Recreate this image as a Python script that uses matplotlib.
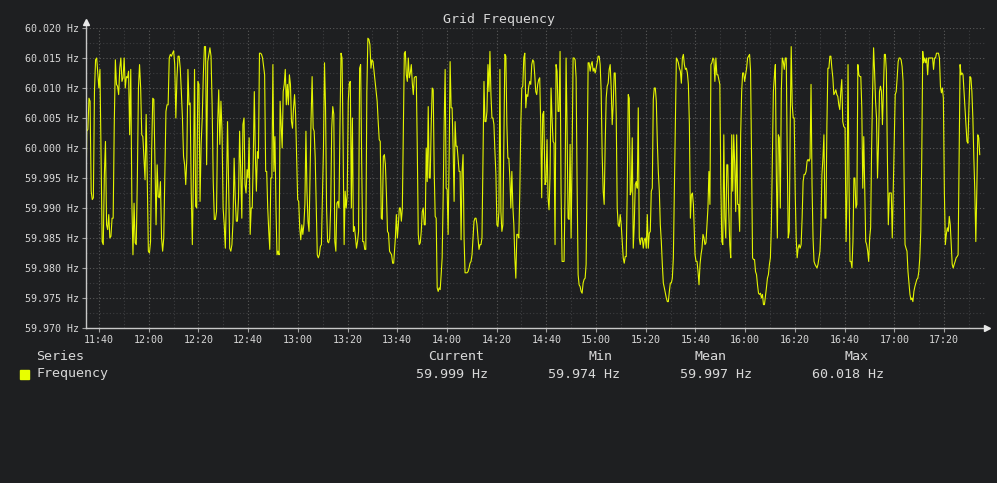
import numpy as np
import pandas as pd
import matplotlib
matplotlib.use("Agg")
import matplotlib.pyplot as plt
import matplotlib.dates as mdates
from matplotlib.ticker import MultipleLocator, FuncFormatter

# Fréquence du réseau : écart par rapport à 60 Hz, en mHz
nominal_hz = 60.0
day = "2024-01-01"

seg1_span = ("11:34:38", "12:38:21")
seg1_mhz = [-12.8, 2.8, 3.1, 8.3, 7.8, -7.2, -8.6, -8.3, 9.4, 14.7, 15.0, 12.5, 10.0, 13.1, -1.7,
            -15.6, -16.1, -4.4, 1.1, -12.8, -13.6, -11.1, -15.0, -14.7, -11.7, -11.7, 3.9, 14.7,
            10.6, 10.3, 8.9, 13.3, 15.0, 11.1, 11.7, 15.0, 10.0, 11.9, 11.7, 12.8, 2.2, 13.1, -8.9,
            -17.8, -9.2, -15.8, -16.1, -5.0, 10.0, 13.9, 10.0, 2.2, 1.9, -1.7, -5.3, 5.6, -5.0,
            -17.2, -17.5, -15.6, -0.6, 8.3, 8.1, -2.8, -12.8, -2.8, -8.1, -8.3, -5.6, -15.0, -17.2,
            -15.0, -4.4, 6.1, 7.2, 7.2, 15.0, 15.6, 15.3, 15.8, 16.2, 13.9, 5.0, 11.7, 15.3, 15.3,
            13.3, 9.4, 5.0, -1.4, -2.8, -6.1, -1.7, 13.1, 7.2, 7.5, -7.2, -16.1, -4.4, 13.1, -9.7,
            -10.0, 11.1, 10.6, -8.9, 0.6, 5.0, 12.2, 16.9, 16.9, -2.8, 14.4, 15.6, 16.7, 15.3, 7.2,
            -5.6, -11.9, -11.9, -10.6, 3.9, 9.7, 0.6, 7.8, 2.8, -10.0, -12.8, -16.7, -7.2, 4.4,
            -6.7, -16.7, -17.2, -16.1, -12.2, -1.7, -8.3, -12.2, -12.2, -8.3, 2.8, -3.9, -11.7,
            3.9, 5.0]

seg2_span = ("12:38:45", "13:38:34")
seg2_mhz = [-6.1, -7.5, -3.6, -5.0, 1.7, -14.4, -10.0, -10.0, -1.7, 9.4, -1.1, -7.2, -0.6, -1.7,
            15.8, 15.8, 15.6, 15.0, 13.6, 12.2, -3.9, -3.9, -10.0, -13.9, -16.9, -5.0, -5.0, 13.9,
            -3.9, 1.9, -10.0, -17.8, -17.2, -17.8, 7.8, 3.9, 0.0, 9.4, 10.6, 13.1, 7.2, 10.6, 7.2,
            12.2, 10.6, 4.4, 3.3, 6.7, 8.9, 5.6, -1.7, -8.6, -8.9, -13.3, -15.3, -12.8, -14.4,
            -12.8, -9.4, 2.8, -7.2, -12.2, -13.9, -4.4, 5.0, 11.9, 3.3, 2.8, -1.7, -9.4, -17.8,
            -18.3, -17.8, -16.4, -16.1, -7.8, 0.0, 14.2, 6.7, -10.0, -15.6, -15.8, -15.0, -9.7,
            3.3, 6.9, 5.6, -15.6, -17.2, -9.2, -8.9, -10.0, 3.9, 15.8, 15.0, 1.1, -16.1, -7.2,
            -10.0, -7.8, 7.8, 10.8, 11.1, -10.0, 5.0, -13.9, -13.1, -15.0, -16.7, -15.6, -13.9,
            13.3, 13.9, -2.2, -15.6, -15.6, -16.9, -16.9, 9.4, 18.3, 18.1, 17.2, 13.3, 14.7, 14.4,
            12.8, 11.1, 9.4, 7.8, 4.4, 1.4, 1.1, -11.7, -11.9, -1.4, -1.1, -2.8, -7.8, -13.9,
            -14.2, -17.2, -17.5, -17.8, -19.2, -19.2]

seg3_span = ("13:39:15", "14:38:56")
seg3_mhz = [-15.0, -11.1, -15.0, -12.8, -10.0, -10.0, -12.2, -10.0, 3.3, 15.8, 16.1, 12.2, 11.1,
            15.0, 11.7, 12.5, 13.9, 10.8, 8.9, 11.7, 11.9, 11.9, 0.0, -14.4, -16.1, -15.8, -13.9,
            -10.6, -10.0, -12.8, -12.8, 0.0, -5.6, 6.9, -5.0, -5.0, 3.9, 10.0, 9.7, -3.9, -11.4,
            -11.7, -23.3, -23.9, -23.3, -23.6, -21.1, -18.3, -8.3, 3.9, 13.1, -6.7, -6.9, -14.4,
            -1.7, 14.4, 6.7, 6.7, 0.0, -8.9, 4.4, 0.3, 0.3, -1.7, -3.9, -3.9, -15.3, -3.9, -1.1,
            -15.0, -20.8, -20.8, -20.8, -20.6, -20.0, -19.2, -18.9, -17.8, -15.0, -12.2, -11.7,
            -11.7, -12.8, -15.0, -16.9, -16.1, -16.1, -15.0, -1.7, 11.1, 4.4, 4.4, 6.1, 13.9, 9.4,
            16.1, 8.9, 5.0, 5.0, 3.9, -0.6, -4.4, -12.8, -13.1, -10.6, 13.1, -10.6, -13.9, -12.8,
            1.1, 15.6, 15.3, 3.9, -1.7, -1.7, -5.0, -10.0, -3.9, -9.7, -12.8, -18.3, -21.7, -14.4,
            -14.4, -15.0, -7.2, 3.9, 10.0, 10.3, 15.0, 15.8, 6.7, 8.9, 8.6, 10.3, 11.1, 10.6, 13.9,
            14.7, 14.4, 12.2, 9.4, 8.9, 10.6, 11.4, 11.7, 3.9, -8.3, 5.6, 6.1]

seg4_span = ("14:39:28", "15:39:10")
seg4_mhz = [-6.1, -5.6, 1.4, -8.3, -10.3, -4.4, 10.0, 5.0, 1.1, 0.8, -16.1, 13.9, 12.8, 6.1, 6.1,
            16.1, -7.2, -18.9, -18.9, -18.9, -7.2, 15.0, 2.8, -11.7, -11.9, 0.6, -15.0, -1.7, 15.0,
            15.0, 14.7, 11.7, -6.1, -21.1, -22.8, -23.1, -23.9, -24.2, -22.5, -21.9, -21.7, -19.4,
            -3.3, 14.2, 14.2, 12.8, 13.9, 14.4, 12.8, 13.3, 12.5, 13.3, 14.2, 15.3, 15.3, 13.9,
            9.4, -1.1, -7.2, -9.4, 0.6, 8.3, 10.3, 10.8, 13.1, 13.9, 10.0, 3.9, 7.2, 12.5, 12.5,
            5.6, -10.0, -12.8, -13.1, -11.1, -12.8, -15.6, -18.3, -19.2, -18.1, -18.1, -7.2, 8.9,
            8.3, -7.8, -7.2, 1.7, -16.7, -12.8, -6.1, -5.6, -6.7, 6.7, -15.0, -16.1, -15.0, -15.0,
            -16.7, -15.3, -15.0, -16.7, -11.1, -16.7, -14.2, -13.9, -7.2, -6.7, 8.1, 10.0, 10.0,
            7.8, 1.1, -3.9, -7.2, -12.8, -15.6, -19.4, -22.5, -23.3, -24.2, -25.0, -25.6, -25.6,
            -23.9, -22.5, -22.5, -21.7, -18.3, -7.2, 3.9, 15.0, 14.7, 14.2, 13.3, 12.8, 10.8, 15.0,
            15.6, 13.9, 13.1, 13.3, 12.5, 10.6, 3.9, -11.7, -7.8, -7.5, -9.4]

seg5_span = ("15:39:50", "16:39:40")
seg5_mhz = [-17.8, -18.9, -18.9, -20.6, -22.8, -19.4, -17.8, -16.7, -14.4, -15.0, -16.1, -15.8,
            -12.8, -10.0, -3.9, -9.4, 13.9, 14.2, 15.0, 14.7, 11.1, 15.0, 12.2, 12.2, 11.4, 10.6,
            -5.8, -15.6, -16.1, 2.2, -11.7, -15.0, -2.8, -2.8, -10.6, -16.1, -18.3, 2.2, -7.2, 2.2,
            -2.8, -10.6, 2.2, -9.4, -9.4, -13.9, 2.2, 9.4, 12.5, 12.5, 11.1, 12.2, 13.3, 15.0, 15.3,
            15.6, 12.8, -1.7, -18.3, -18.6, -18.6, -20.6, -21.1, -22.8, -24.2, -24.4, -24.2, -25.0,
            -24.4, -26.1, -26.1, -24.7, -23.3, -21.7, -21.1, -19.4, -18.3, -12.8, -1.7, 9.4, 11.9,
            13.9, -4.4, -15.0, 2.2, 1.7, -10.0, 9.4, 15.0, 14.4, 13.1, 15.0, 15.0, -1.7, -15.0,
            -13.9, 3.9, 16.9, 7.2, 5.0, 5.0, -7.2, -15.0, -18.3, -16.7, -16.1, -16.7, -16.1, -11.7,
            -5.6, -4.4, -4.4, -3.9, -2.2, -1.9, -2.2, -1.7, 10.6, -6.1, -15.0, -18.9, -19.4, -19.7,
            -20.0, -19.4, -18.3, -17.2, -12.8, -4.4, -1.7, 2.2, -11.7, -11.7, 3.9, 13.3, 13.3,
            15.3, 15.3, 13.3, 11.7, 8.9, 9.2, 9.7, 8.9, 8.6, 7.2, 6.4, 9.4, 11.4, 4.4, 3.6]

seg6_span = ("16:40:12", "17:34:23")
seg6_mhz = [3.3, -15.6, -7.2, 13.9, -5.6, -18.9, -18.9, -20.0, -15.6, -5.0, -5.0, -10.0, -9.4,
            13.9, 12.2, 11.9, 11.9, 6.7, -6.7, 1.9, -7.2, -15.6, -16.1, -17.2, -18.9, -15.0, -13.3,
            0.0, 9.4, 16.7, 12.8, 7.8, 5.0, -5.0, 0.6, 9.4, 10.3, 9.4, 3.9, 9.4, 15.6, 15.6, 12.8,
            -1.1, -12.8, -7.5, -7.5, -7.5, -15.0, -7.2, 0.6, 8.9, 9.4, 11.7, 14.4, 15.0, 15.0, 14.7,
            13.6, 11.1, -4.4, -16.1, -16.7, -17.2, -20.6, -22.5, -24.4, -25.3, -25.0, -25.6, -23.9,
            -23.1, -22.5, -21.9, -21.7, -20.6, -18.3, -13.9, -1.7, 16.1, 14.2, 15.0, 14.2, 15.0,
            12.2, 15.0, 15.0, 15.0, 15.0, 15.0, 13.1, 15.0, 15.0, 15.8, 15.8, 15.8, 15.0, 10.3,
            9.2, 10.0, 8.3, -7.2, -16.1, -14.4, -13.3, -13.9, -11.4, -12.8, -16.1, -19.4, -20.0,
            -19.4, -18.9, -18.3, -18.1, -17.8, -1.7, 13.9, 12.2, 12.5, 12.2, 9.4, 6.7, 3.9, 1.1,
            0.8, 6.7, 11.9, 11.7, 9.4, 5.0, -1.7, -7.2, -15.6, -7.2, 2.2, 1.7, -1.1]

segments = [(seg1_span, seg1_mhz), (seg2_span, seg2_mhz), (seg3_span, seg3_mhz),
            (seg4_span, seg4_mhz), (seg5_span, seg5_mhz), (seg6_span, seg6_mhz)]

x_start, x_end = "11:34:46", "17:36:30"
y_ticks_hz = [59.970, 59.975, 59.980, 59.985, 59.990, 59.995,
              60.000, 60.005, 60.010, 60.015, 60.020]

legend_headers = ["Current", "Min", "Mean", "Max"]
legend_values = ["59.999 Hz", "59.974 Hz", "59.997 Hz", "60.018 Hz"]

bg = "#1e1f21"
fg = "#d8d8d8"
line_col = "#e4f500"

# construction de la série temporelle
frames = []
for (t0, t1), vals in segments:
    idx = pd.date_range(f"{day} {t0}", f"{day} {t1}", periods=len(vals))
    frames.append(pd.Series(nominal_hz + np.array(vals) / 1000.0, index=idx))
freq = pd.concat(frames)

W, H = 997, 483
fig = plt.figure(figsize=(W / 100, H / 100), dpi=100, facecolor=bg)
ax = fig.add_axes([86 / W, 1 - 328 / H, (985 - 86) / W, 300 / H])
ax.set_facecolor(bg)

ax.plot(freq.index, freq.values, color=line_col, linewidth=0.8)

ax.set_xlim(pd.Timestamp(f"{day} {x_start}"), pd.Timestamp(f"{day} {x_end}"))
ax.set_ylim(y_ticks_hz[0], y_ticks_hz[-1])

ax.xaxis.set_major_locator(mdates.MinuteLocator(byminute=[0, 20, 40]))
ax.xaxis.set_minor_locator(mdates.MinuteLocator(byminute=[10, 30, 50]))
ax.xaxis.set_major_formatter(mdates.DateFormatter("%H:%M"))
ax.set_yticks(y_ticks_hz)
ax.yaxis.set_minor_locator(MultipleLocator(0.0025))
ax.yaxis.set_major_formatter(FuncFormatter(lambda v, p: f"{v:.3f} Hz"))

ax.grid(True, which="major", color="#5a5a5a", linestyle=(0, (1, 2)), linewidth=0.8)
ax.grid(True, which="minor", color="#3c3d40", linestyle=(0, (1, 2)), linewidth=0.8)
ax.set_axisbelow(True)

for s in ax.spines.values():
    s.set_visible(False)
ax.tick_params(which="major", colors="#a0a0a0", labelcolor=fg, length=3, width=0.8,
               labelsize=7.2, pad=2)
ax.tick_params(which="minor", length=0)
for lab in ax.get_xticklabels() + ax.get_yticklabels():
    lab.set_family("DejaVu Sans Mono")

# axes avec flèches
ax.plot([0, 0], [0, 1.015], transform=ax.transAxes, color="#c8c8c8", lw=1, clip_on=False)
ax.plot([0, 1.002], [0, 0], transform=ax.transAxes, color="#c8c8c8", lw=1, clip_on=False)
ax.plot([0], [1.02], marker="^", ms=4, color="#e8e8e8", transform=ax.transAxes, clip_on=False)
ax.plot([1.002], [0], marker=">", ms=4, color="#e8e8e8", transform=ax.transAxes, clip_on=False)

mono = "DejaVu Sans Mono"
fig.text(0.5, 1 - 19 / H, "Grid Frequency", ha="center", va="center", color=fg,
         fontsize=9.5, family=mono)

# légende façon tableau
row1, row2 = 1 - 356 / H, 1 - 374 / H
fig.text(36 / W, row1, "Series", ha="left", va="center", color=fg, fontsize=9.6, family=mono)
fig.text(36 / W, row2, "Frequency", ha="left", va="center", color=fg, fontsize=9.6, family=mono)
fig.patches.append(plt.Rectangle((20 / W, 1 - 379 / H), 9 / W, 9 / H, color="#e8ff00",
                                 transform=fig.transFigure))
header_x = [456, 600, 710, 856]
value_x = [452, 584, 716, 848]
for hx, txt in zip(header_x, legend_headers):
    fig.text(hx / W, row1, txt, ha="center", va="center", color=fg, fontsize=9.6, family=mono)
for vx, txt in zip(value_x, legend_values):
    fig.text(vx / W, row2, txt, ha="center", va="center", color=fg, fontsize=9.6, family=mono)

fig.savefig("out.png", dpi=100, facecolor=bg)
